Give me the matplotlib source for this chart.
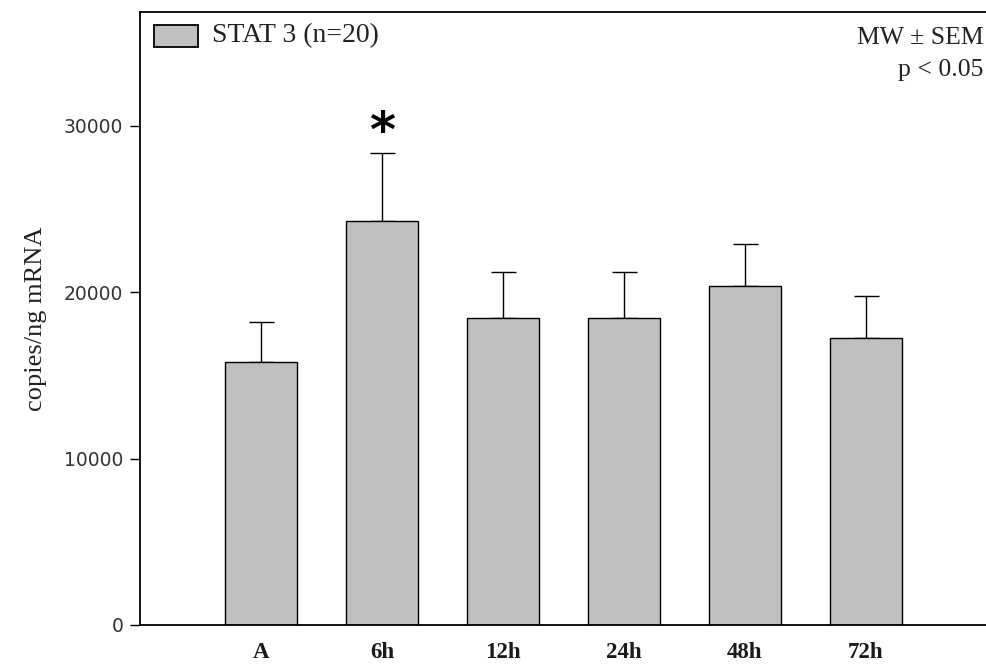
import matplotlib
matplotlib.use("Agg")
import matplotlib.pyplot as plt
from matplotlib.patches import Rectangle

categories = ["A", "6h", "12h", "24h", "48h", "72h"]
means = [15800, 24300, 18450, 18450, 20400, 17250]
sem = [2400, 4050, 2800, 2800, 2500, 2550]
yticks = [0, 10000, 20000, 30000]

fig = plt.figure(figsize=(9.87, 6.71), dpi=100)
ax = fig.add_axes([140/987, 46/671, 847/987, 613/671])

x = list(range(1, len(categories) + 1))
ax.bar(x, means, width=0.6, color="#c0c0c0", edgecolor="black", linewidth=1.0, zorder=2)
ax.errorbar(x, means, yerr=[[0]*len(sem), sem], fmt="none", ecolor="black",
            elinewidth=1.0, capsize=9, capthick=1.0, zorder=1)

ax.set_xlim(0, 7)
ax.set_ylim(0, 36850)
ax.set_xticks(x)
ax.set_xticklabels(categories, family="Liberation Serif", fontsize=16.5, fontweight="semibold",
                   color="#1a1a1a")
ax.tick_params(axis="x", length=0, pad=12)
ax.set_yticks(yticks)
ax.set_yticklabels([str(v) for v in yticks], family="DejaVu Sans", fontsize=13.5, color="#333333")
ax.tick_params(axis="y", direction="out", length=7, width=1, pad=5)

for s in ["top", "left", "bottom"]:
    ax.spines[s].set_linewidth(1.3)
ax.spines["right"].set_visible(False)

ax.set_ylabel("copies/ng mRNA", family="Liberation Serif", fontsize=19, labelpad=12,
              color="#222222")

# significance
ax.text(2, 28150, "*", ha="center", va="bottom", fontsize=36, fontweight="bold",
        family="DejaVu Sans")

# legend
ax.add_patch(Rectangle((0.0165, 0.943), 0.0525, 0.036, transform=ax.transAxes,
                       facecolor="#c0c0c0", edgecolor="black", linewidth=1.3))
ax.text(0.085, 0.961, "STAT 3 (n=20)", transform=ax.transAxes, ha="left", va="center",
        family="Liberation Serif", fontsize=20, color="#222222")

ax.text(0.996, 0.958, "MW \u00b1 SEM", transform=ax.transAxes, ha="right", va="center",
        family="Liberation Serif", fontsize=18.5, color="#222222")
ax.text(0.996, 0.906, "p < 0.05", transform=ax.transAxes, ha="right", va="center",
        family="Liberation Serif", fontsize=18.5, color="#222222")

fig.savefig("out.png", dpi=100)
